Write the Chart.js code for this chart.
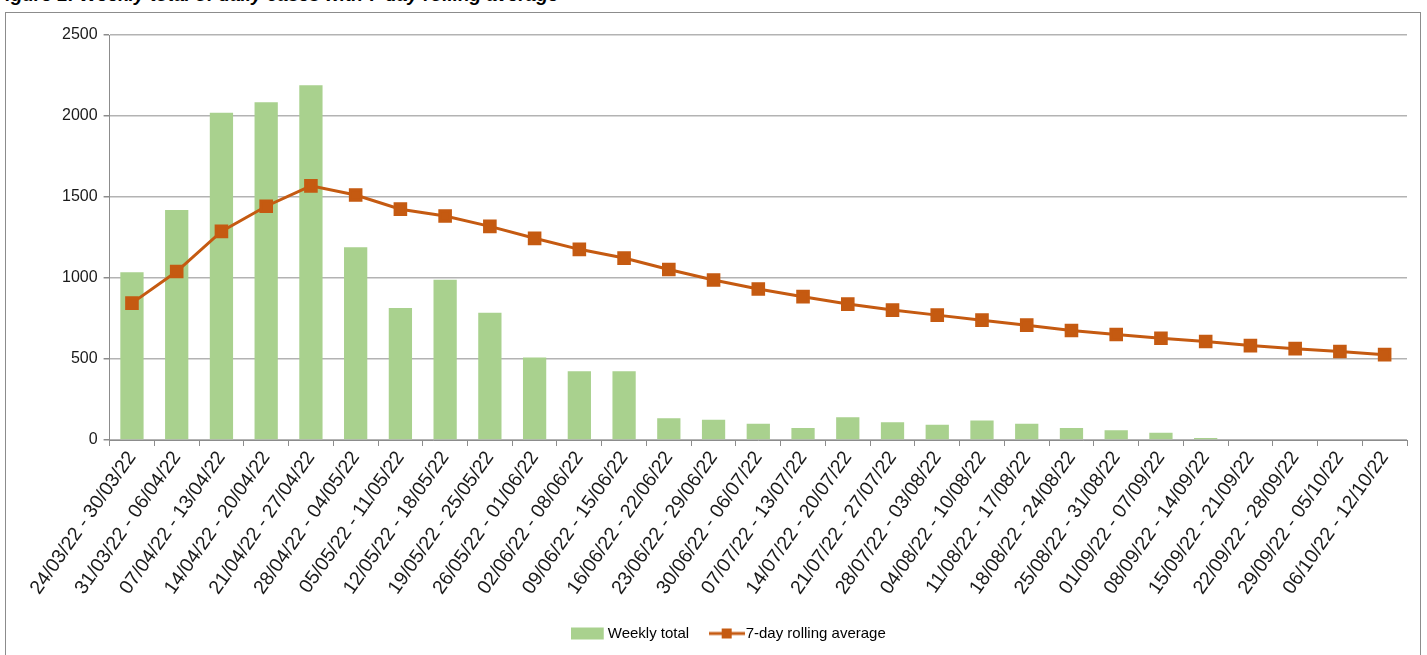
<!DOCTYPE html>
<html>
<head>
<meta charset="utf-8">
<script src="https://cdn.jsdelivr.net/npm/chart.js@4.4.1/dist/chart.umd.min.js"></script>
<style>
  html, body { margin: 0; padding: 0; background: #fff; overflow: hidden; }
  #wrap { position: relative; width: 1427px; height: 655px; }
  #title {
    position: absolute; left: -6px; top: -16px;
    font: italic bold 19px "Liberation Sans", sans-serif;
    color: #000; white-space: nowrap;
  }
  #frame {
    position: absolute; left: 5px; top: 12px; width: 1414px; height: 660px;
    border: 1px solid #8c8c8c;
  }
  #chart { position: absolute; left: 0; top: 0; }
</style>
</head>
<body>
<div id="wrap">
  <div id="title">Figure 1: Weekly total of daily cases with 7-day rolling average</div>
  <div id="frame"></div>
  <canvas id="chart" width="1427" height="655"></canvas>
</div>
<script>
const weeks = [
  '24/03/22 - 30/03/22', '31/03/22 - 06/04/22', '07/04/22 - 13/04/22', '14/04/22 - 20/04/22',
  '21/04/22 - 27/04/22', '28/04/22 - 04/05/22', '05/05/22 - 11/05/22', '12/05/22 - 18/05/22',
  '19/05/22 - 25/05/22', '26/05/22 - 01/06/22', '02/06/22 - 08/06/22', '09/06/22 - 15/06/22',
  '16/06/22 - 22/06/22', '23/06/22 - 29/06/22', '30/06/22 - 06/07/22', '07/07/22 - 13/07/22',
  '14/07/22 - 20/07/22', '21/07/22 - 27/07/22', '28/07/22 - 03/08/22', '04/08/22 - 10/08/22',
  '11/08/22 - 17/08/22', '18/08/22 - 24/08/22', '25/08/22 - 31/08/22', '01/09/22 - 07/09/22',
  '08/09/22 - 14/09/22', '15/09/22 - 21/09/22', '22/09/22 - 28/09/22', '29/09/22 - 05/10/22',
  '06/10/22 - 12/10/22'
];

const weeklyTotal = [
  1035, 1420, 2020, 2085, 2190, 1190, 815, 990, 785, 510, 425, 425,
  135, 125, 100, 75, 140, 110, 95, 120, 100, 75, 60, 45, 12, 5, 5, 5, 5
];

const rollingAvg = [
  845, 1040, 1288, 1443, 1569, 1512, 1425, 1383, 1319, 1245, 1177, 1123,
  1053, 988, 932, 885, 839, 802, 771, 740, 709, 676, 651, 628, 608, 583, 564, 546, 527
];

const yTicks = [0, 500, 1000, 1500, 2000, 2500];

const GREEN = '#a9d18e';
const ORANGE = '#c55a11';
const FONT = '"Liberation Sans", sans-serif';

// little legend swatches like the Excel ones
function swatch(kind) {
  const c = document.createElement('canvas');
  c.width = 36; c.height = 14;
  const g = c.getContext('2d');
  if (kind === 'bar') {
    g.fillStyle = GREEN;
    g.fillRect(0, 1, 33, 12);
  } else {
    g.strokeStyle = ORANGE;
    g.lineWidth = 3;
    g.beginPath(); g.moveTo(0, 7); g.lineTo(36, 7); g.stroke();
    g.fillStyle = ORANGE;
    g.fillRect(13, 2, 10, 10);
  }
  return c;
}

const ctx = document.getElementById('chart').getContext('2d');
new Chart(ctx, {
  type: 'bar',
  data: {
    labels: weeks,
    datasets: [
      {
        type: 'line',
        label: '7-day rolling average',
        data: rollingAvg,
        borderColor: ORANGE,
        backgroundColor: ORANGE,
        borderWidth: 3,
        pointStyle: 'rect',
        pointRadius: 7.5,
        pointHoverRadius: 7.5,
        tension: 0,
        order: 1
      },
      {
        label: 'Weekly total',
        data: weeklyTotal,
        backgroundColor: GREEN,
        barPercentage: 0.52,
        categoryPercentage: 1.0,
        order: 2
      }
    ]
  },
  options: {
    responsive: false,
    animation: false,
    layout: { padding: { left: 56, right: 20, top: 35, bottom: 4 } },
    plugins: {
      tooltip: { enabled: false },
      legend: {
        position: 'bottom',
        labels: {
          usePointStyle: true,
          pointStyleWidth: 23,
          boxHeight: 14,
          padding: 26,
          color: '#1a1a1a',
          font: { family: FONT, size: 15 },
          generateLabels: () => [
            { text: 'Weekly total', pointStyle: swatch('bar'), fillStyle: GREEN, strokeStyle: GREEN, lineWidth: 0, datasetIndex: 1 },
            { text: '7-day rolling average', pointStyle: swatch('line'), fillStyle: ORANGE, strokeStyle: ORANGE, lineWidth: 0, datasetIndex: 0 }
          ]
        }
      }
    },
    scales: {
      x: {
        offset: true,
        grid: { display: true, drawOnChartArea: false, drawTicks: true, tickLength: 6, color: '#8c8c8c', offset: true },
        border: { color: '#8c8c8c' },
        ticks: {
          autoSkip: false,
          maxRotation: 55,
          minRotation: 55,
          padding: 1,
          color: '#1a1a1a',
          font: { family: FONT, size: 19.5 }
        }
      },
      y: {
        min: 0,
        max: 2500,
        afterBuildTicks: axis => { axis.ticks = yTicks.map(v => ({ value: v })); },
        grid: { color: '#b3b3b3', lineWidth: 1.5, tickLength: 6, tickColor: '#8c8c8c' },
        border: { color: '#8c8c8c' },
        ticks: {
          padding: 6,
          color: '#1a1a1a',
          font: { family: FONT, size: 16 },
          callback: v => String(v)
        }
      }
    }
  }
});
</script>
</body>
</html>
